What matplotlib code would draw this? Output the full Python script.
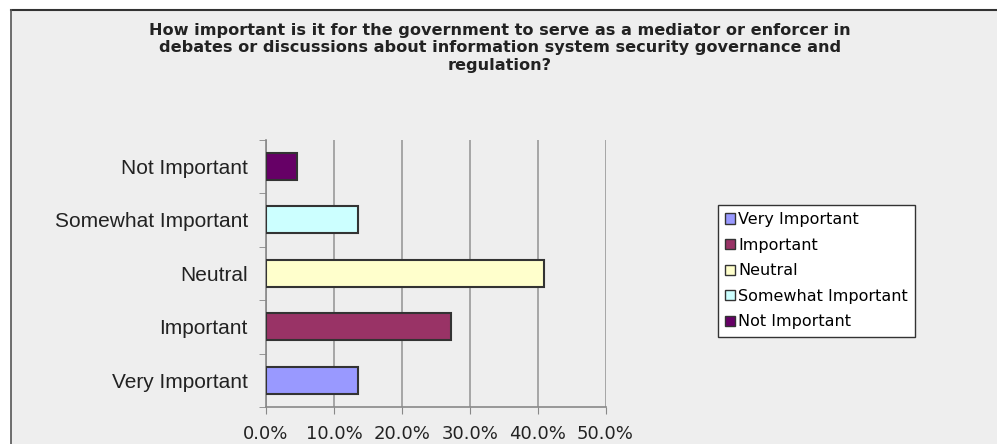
import numpy as np
import matplotlib.pyplot as plt
from matplotlib.lines import Line2D
from matplotlib.patches import Patch

# survey answers, share of respondents in %
categories = ["Very Important", "Important", "Neutral", "Somewhat Important", "Not Important"]
shares = [13.6, 27.3, 40.9, 13.6, 4.5]
colors = ["#9999FF", "#993366", "#FFFFCC", "#CCFFFF", "#660066"]
xticks = [0, 10, 20, 30, 40, 50]
xtick_labels = ["0.0%", "10.0%", "20.0%", "30.0%", "40.0%", "50.0%"]

title = ("How important is it for the government to serve as a mediator or enforcer in\n"
         "debates or discussions about information system security governance and\n"
         "regulation?")

W, H = 997, 444
fig = plt.figure(figsize=(W / 100, H / 100), dpi=100)
fig.patch.set_facecolor("white")

# grey chart area with dark frame on top and left
bg = plt.Rectangle((11 / W, 0), 1 - 11 / W, 1 - 10 / H, transform=fig.transFigure,
                   facecolor="#EEEEEE", edgecolor="none", zorder=-2)
fig.patches.append(bg)
fig.add_artist(Line2D([11 / W, 1], [1 - 10 / H, 1 - 10 / H], transform=fig.transFigure,
                      color="#333333", lw=1.5))
fig.add_artist(Line2D([11 / W, 11 / W], [0, 1 - 10 / H], transform=fig.transFigure,
                      color="#555555", lw=1.2))

left, right = 266 / W, 605.5 / W
top, bottom = 1 - 139.5 / H, 1 - 407 / H
ax = fig.add_axes([left, bottom, right - left, top - bottom])
ax.set_facecolor("#EEEEEE")

y = np.arange(len(categories))
ax.barh(y, shares, height=0.5, color=colors, edgecolor="#333333", linewidth=1.5, zorder=3)

ax.set_xlim(0, 50)
ax.set_ylim(-0.5, len(categories) - 0.5)
ax.set_xticks(xticks)
ax.set_xticklabels(xtick_labels, fontsize=13, family="DejaVu Sans", color="#222222")
ax.set_yticks(y)
ax.set_yticklabels(categories, fontsize=15, family="Liberation Sans", color="#222222")
ax.set_yticks(np.arange(-0.5, len(categories), 1), minor=True)
ax.tick_params(axis="y", which="major", length=0, pad=13)
ax.tick_params(axis="y", which="minor", length=5, color="#888888", direction="out")
ax.tick_params(axis="x", length=5, color="#888888", pad=8)
ax.grid(axis="x", color="#999999", linewidth=1.2, zorder=0)

for side in ["top", "right"]:
    ax.spines[side].set_visible(False)
for side in ["left", "bottom"]:
    ax.spines[side].set_color("#888888")
    ax.spines[side].set_linewidth(1.2)

fig.text(500 / W, 1 - 23 / H, title, ha="center", va="top", fontsize=11.6,
         family="DejaVu Sans", fontweight="bold", color="#222222", linespacing=1.2)

handles = [Patch(facecolor=c, edgecolor="#333333", linewidth=1) for c in colors]
leg = fig.legend(handles, categories, loc="upper left",
                 bbox_to_anchor=(718 / W, 1 - 205 / H), frameon=True, fancybox=False,
                 framealpha=1, prop={"family": "DejaVu Sans", "size": 11.5},
                 handlelength=0.6, handleheight=0.6, handletextpad=0.2,
                 labelspacing=0.66, borderpad=0.45, borderaxespad=0)
leg.get_frame().set_edgecolor("#333333")
leg.get_frame().set_linewidth(1)
leg.get_frame().set_facecolor("white")

fig.savefig("out.png", dpi=100)
